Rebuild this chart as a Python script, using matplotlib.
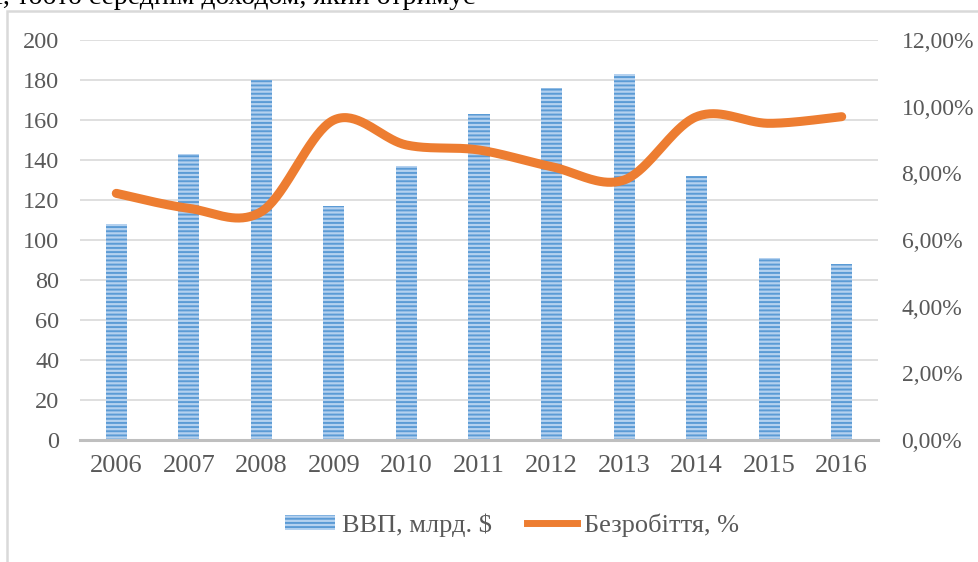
import numpy as np
import matplotlib
matplotlib.use("Agg")
import matplotlib.pyplot as plt
from matplotlib.patches import Rectangle, Patch
from matplotlib.lines import Line2D

years = ["2006", "2007", "2008", "2009", "2010", "2011", "2012", "2013", "2014", "2015", "2016"]
gdp = [108, 143, 180, 117, 137, 163, 176, 183, 132, 91, 88]
unemployment = [7.4, 6.95, 6.85, 9.6, 8.85, 8.7, 8.2, 7.8, 9.7, 9.5, 9.7]
left_ticks = [0, 20, 40, 60, 80, 100, 120, 140, 160, 180, 200]
right_ticks = [0, 2, 4, 6, 8, 10, 12]
right_labels = ["0,00%", "2,00%", "4,00%", "6,00%", "8,00%", "10,00%", "12,00%"]
label_gdp = "ВВП, млрд. $"
label_unemp = "Безробіття, %"
top_text = "і, тобто середнім доходом, який отримує"

plt.rcParams['font.family'] = ['Liberation Serif', 'DejaVu Serif']
plt.rcParams['hatch.linewidth'] = 1.4

W, H = 979, 562
fig = plt.figure(figsize=(W / 100, H / 100), dpi=100)

# chart frame
fig.patches.append(Rectangle((7 / W, -0.1), 1.2, 1 - 11 / H + 0.1, transform=fig.transFigure,
                             fill=False, edgecolor='#d9d9d9', linewidth=1.8, zorder=0))
fig.text(-5 / W, 1 - 4 / H, top_text, fontsize=20, va='baseline', ha='left', color='black')

ax = fig.add_axes([80 / W, 1 - 440 / H, (878 - 80) / W, 400 / H])
x = np.arange(len(years))
bar_face = '#b4d1ef'
bar_hatch = '#5b9bd5'
ax.bar(x, gdp, width=0.29, color=bar_face, edgecolor=bar_hatch, linewidth=0, hatch='----', zorder=2)
ax.set_xlim(-0.5, len(years) - 0.5)
ax.set_ylim(0, 200)
ax.set_yticks(left_ticks)
ax.set_xticks(x)
ax.set_xticklabels(years)
ax.grid(axis='y', color='#d9d9d9', linewidth=1.2, zorder=0)
ax.set_axisbelow(True)
for s in ['top', 'right', 'left']:
    ax.spines[s].set_visible(False)
ax.spines['bottom'].set_color('#bfbfbf')
ax.spines['bottom'].set_linewidth(2.2)
ax.tick_params(axis='y', length=0, pad=15, labelsize=17.5, labelcolor='#595959')
ax.tick_params(axis='x', length=0, pad=11, labelsize=19, labelcolor='#595959')

ax2 = ax.twinx()
ax2.set_ylim(0, 12)
ax2.set_yticks(right_ticks)
ax2.set_yticklabels(right_labels)
for s in ax2.spines.values():
    s.set_visible(False)
ax2.tick_params(axis='y', length=0, pad=17, labelsize=17, labelcolor='#595959')

# Catmull-Rom smoothing (as in a smoothed line chart)
def smooth(xs, ys, n=40):
    xs = np.asarray(xs, float); ys = np.asarray(ys, float)
    P = np.column_stack([xs, ys])
    P = np.vstack([P[0], P, P[-1]])
    out = []
    for i in range(1, len(P) - 2):
        p0, p1, p2, p3 = P[i - 1], P[i], P[i + 1], P[i + 2]
        c1 = p1 + (p2 - p0) / 6
        c2 = p2 - (p3 - p1) / 6
        t = np.linspace(0, 1, n)[:, None]
        seg = (1 - t) ** 3 * p1 + 3 * (1 - t) ** 2 * t * c1 + 3 * (1 - t) * t ** 2 * c2 + t ** 3 * p2
        out.append(seg if i == 1 else seg[1:])
    o = np.vstack(out)
    return o[:, 0], o[:, 1]

sx, sy = smooth(x, unemployment)
ax2.plot(sx, sy, color='#ed7d31', linewidth=6.5, solid_capstyle='round', zorder=3)

handles = [Patch(facecolor=bar_face, edgecolor=bar_hatch, hatch='----', linewidth=0),
           Line2D([0], [0], color='#ed7d31', linewidth=5)]
fig.legend(handles, [label_gdp, label_unemp], loc='center', bbox_to_anchor=(512 / W, 1 - 525 / H),
           ncol=2, frameon=False, fontsize=19, handlelength=1.9, handleheight=0.5,
           columnspacing=1.35, handletextpad=0.25, labelcolor='#595959')

fig.savefig("out.png", dpi=100)
